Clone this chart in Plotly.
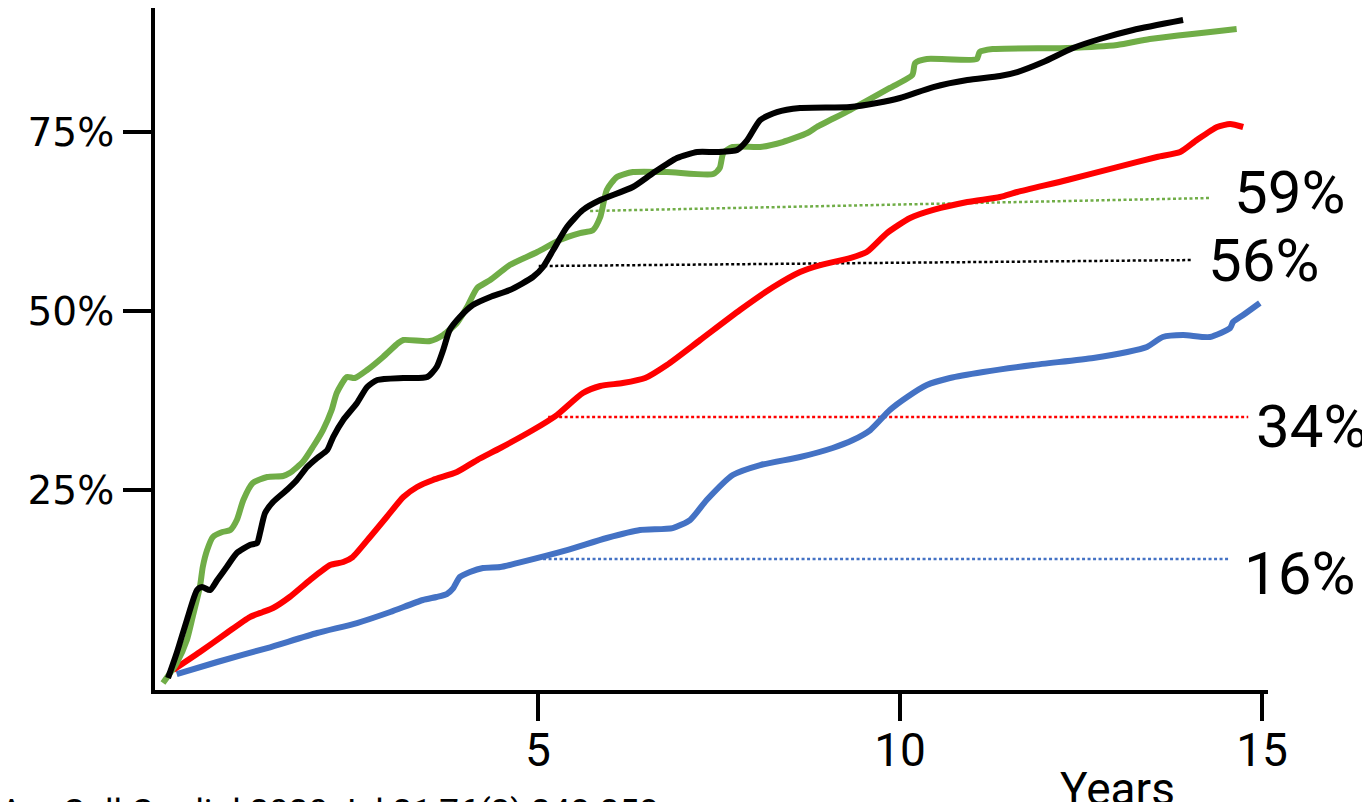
import plotly.graph_objects as go

# ---- data (years, cumulative %) ----
green_x = [-0.18, 0.01, 0.15, 0.23, 0.33, 0.37, 0.43, 0.51, 0.64, 0.75, 0.84, 0.93, 1.06, 1.26, 1.48, 1.57,
           1.75, 1.89, 2.03, 2.15, 2.22, 2.36, 2.47, 2.64, 2.86, 3.07, 3.14, 3.51, 3.69, 3.88, 4.02, 4.16,
           4.34, 4.61, 4.99, 5.30, 5.58, 5.76, 5.86, 5.95, 6.09, 6.31, 6.78, 7.42, 7.51, 7.56, 7.69, 8.07,
           8.38, 8.72, 8.85, 9.31, 9.86, 10.17, 10.21, 10.37, 11.06, 11.10, 11.28, 12.31, 13.00, 13.45, 14.65]
green_y = [-1.96, 0.84, 4.05, 7.26, 11.45, 14.25, 16.62, 18.44, 19.13, 19.41, 20.81, 23.60, 25.98, 26.82, 26.96, 27.37,
           28.91, 31.01, 33.38, 36.17, 38.55, 40.78, 40.64, 41.76, 43.58, 45.53, 45.95, 45.81, 46.65, 48.32, 50.56, 53.21,
           54.33, 56.42, 58.24, 59.92, 60.89, 61.31, 63.13, 66.90, 68.72, 69.41, 69.41, 69.13, 69.97, 72.07, 72.91, 72.91,
           73.60, 74.86, 75.70, 78.07, 81.15, 82.96, 84.64, 85.20, 85.20, 86.17, 86.59, 86.73, 87.15, 87.99, 89.39]

black_x = [-0.11, 0.01, 0.15, 0.29, 0.36, 0.47, 0.57, 0.70, 0.84, 1.02, 1.12, 1.16, 1.23, 1.34, 1.53, 1.67,
           1.81, 1.95, 2.09, 2.17, 2.31, 2.50, 2.64, 2.78, 3.14, 3.47, 3.60, 3.69, 3.78, 3.92, 4.10, 4.34,
           4.61, 4.93, 5.07, 5.21, 5.40, 5.62, 5.86, 6.31, 6.59, 6.92, 7.20, 7.47, 7.75, 7.89, 8.07, 8.30,
           8.62, 9.31, 9.68, 10.00, 10.46, 10.93, 11.38, 11.62, 11.98, 12.39, 12.76, 13.22, 13.91]
black_y = [-1.26, 2.23, 6.84, 11.03, 11.45, 11.03, 12.43, 14.25, 16.20, 17.32, 17.60, 18.99, 21.79, 23.32, 25.00, 26.40,
           28.21, 29.47, 30.59, 32.40, 34.78, 37.15, 39.39, 40.36, 40.64, 40.78, 42.18, 44.55, 47.35, 49.16, 50.84, 51.96,
           52.93, 54.75, 56.15, 58.52, 61.73, 64.11, 65.50, 67.32, 69.27, 71.37, 72.21, 72.21, 72.49, 73.88, 76.68, 77.79,
           78.35, 78.49, 79.05, 79.75, 81.28, 82.26, 82.82, 83.38, 84.78, 86.73, 87.99, 89.25, 90.64]

red_x = [-0.04, 0.33, 0.70, 1.02, 1.20, 1.34, 1.57, 1.85, 2.13, 2.31, 2.44, 2.68, 2.91, 3.14, 3.33, 3.55,
         3.88, 4.16, 4.48, 4.93, 5.26, 5.62, 5.86, 6.17, 6.48, 6.78, 7.24, 7.79, 8.25, 8.62, 8.90, 9.31,
         9.54, 9.82, 10.14, 10.46, 10.93, 11.38, 11.62, 12.31, 13.00, 13.55, 13.87, 14.10, 14.38, 14.56, 14.74]
red_y = [-0.14, 2.37, 5.03, 7.26, 7.96, 8.52, 10.06, 12.43, 14.53, 14.94, 15.64, 18.44, 21.23, 24.02, 25.42, 26.40,
         27.51, 29.19, 30.87, 33.38, 35.47, 38.55, 39.53, 39.94, 40.64, 42.46, 45.95, 50.14, 53.35, 55.45, 56.42, 57.40,
         58.24, 60.89, 62.99, 64.11, 65.22, 65.92, 66.62, 68.30, 70.11, 71.51, 72.21, 73.88, 75.70, 76.12, 75.70]

blue_x = [0.01, 0.57, 1.26, 1.95, 2.50, 2.96, 3.41, 3.60, 3.74, 3.83, 3.92, 4.06, 4.24, 4.48, 4.71, 5.40,
          5.95, 6.41, 6.86, 7.10, 7.33, 7.69, 8.07, 8.62, 9.07, 9.35, 9.59, 9.86, 10.10, 10.37, 10.69, 11.15,
          11.84, 12.67, 13.14, 13.41, 13.63, 13.91, 14.28, 14.56, 14.60, 14.74, 14.97]
blue_y = [-0.70, 0.98, 2.93, 5.03, 6.42, 7.96, 9.64, 10.06, 10.47, 11.31, 12.85, 13.55, 14.11, 14.25, 14.80, 16.62,
          18.30, 19.41, 19.69, 20.81, 23.60, 27.09, 28.49, 29.61, 30.87, 31.98, 33.38, 36.17, 37.99, 39.66, 40.64, 41.48,
          42.46, 43.44, 44.27, 44.97, 46.37, 46.65, 46.37, 47.63, 48.46, 49.44, 51.12]

# reference (5-year) dotted lines: start/end x and y
ref_green_x = [5.72, 14.28]
ref_green_y = [63.97, 65.78]
ref_black_x = [5.01, 14.05]
ref_black_y = [56.28, 57.12]
ref_red_x = [5.14, 14.81]
ref_red_y = [35.2, 35.2]
ref_blue_x = [5.07, 14.56]
ref_blue_y = [15.36, 15.36]

end_labels = ["59%", "56%", "34%", "16%"]
end_label_x = [14.59, 14.22, 14.89, 14.73]
end_label_y = [66.6, 57.0, 33.9, 13.4]

x_tickvals = [5, 10, 15]
x_ticktext = ["5", "10", "15"]
y_tickvals = [25, 50, 75]
y_ticktext = ["25%", "50%", "75%"]

GREEN = "#70AD47"
BLACK = "#000000"
RED = "#FF0000"
BLUE = "#4472C4"

fig = go.Figure()

for xs, ys, c in [(ref_blue_x, ref_blue_y, BLUE), (ref_red_x, ref_red_y, RED),
                  (ref_black_x, ref_black_y, BLACK), (ref_green_x, ref_green_y, GREEN)]:
    fig.add_trace(go.Scatter(x=xs, y=ys, mode="lines",
                             line=dict(color=c, width=2.5, dash="3px,2.5px"),
                             showlegend=False, hoverinfo="skip"))

for xs, ys, c in [(blue_x, blue_y, BLUE), (red_x, red_y, RED),
                  (green_x, green_y, GREEN), (black_x, black_y, BLACK)]:
    fig.add_trace(go.Scatter(x=xs, y=ys, mode="lines",
                             line=dict(color=c, width=6, shape="spline", smoothing=0.6),
                             showlegend=False))

for t, x, y in zip(end_labels, end_label_x, end_label_y):
    fig.add_annotation(x=x, y=y, xref="x", yref="y", text=t, showarrow=False,
                       xanchor="left", yanchor="middle",
                       font=dict(family="Roboto", size=60, color="black"))

# plot area spans viewport pixels x 155..1268, y 8..690 (page body adds an 8px margin)
# x-axis title "Years"
fig.add_annotation(x=(1117 - 155) / 1113, y=(690 - 789) / 682, xref="paper", yref="paper",
                   text="Years", showarrow=False, xanchor="center", yanchor="middle",
                   font=dict(family="Roboto", size=46, color="black"))

# source line (partly cut off at bottom edge, as in the reference)
fig.add_annotation(x=(-30 - 155) / 1113, y=(690 - 790) / 682, xref="paper", yref="paper",
                   text="J Am Coll Cardiol 2020 Jul 21;76(3):248-258", showarrow=False,
                   xanchor="left", yanchor="top",
                   font=dict(family="Roboto", size=35, color="black"))

fig.update_layout(
    width=1362, height=794,
    margin=dict(l=147, r=102, t=0, b=112),
    paper_bgcolor="white", plot_bgcolor="white",
    showlegend=False,
)
fig.update_xaxes(range=[-0.29, 15.083], showgrid=False, zeroline=False,
                 showline=True, linecolor="black", linewidth=4,
                 ticks="outside", ticklen=27, tickwidth=4, tickcolor="black",
                 tickvals=x_tickvals, ticktext=x_ticktext, ticklabelstandoff=-10,
                 tickfont=dict(family="Roboto", size=46, color="black"))
fig.update_yaxes(range=[-2.93, 92.32], showgrid=False, zeroline=False,
                 showline=True, linecolor="black", linewidth=4,
                 ticks="outside", ticklen=28, tickwidth=4, tickcolor="black",
                 tickvals=y_tickvals, ticktext=y_ticktext, ticklabelstandoff=1,
                 tickfont=dict(family="DejaVu Sans", size=39, color="black"))

fig.write_html("out.html")
